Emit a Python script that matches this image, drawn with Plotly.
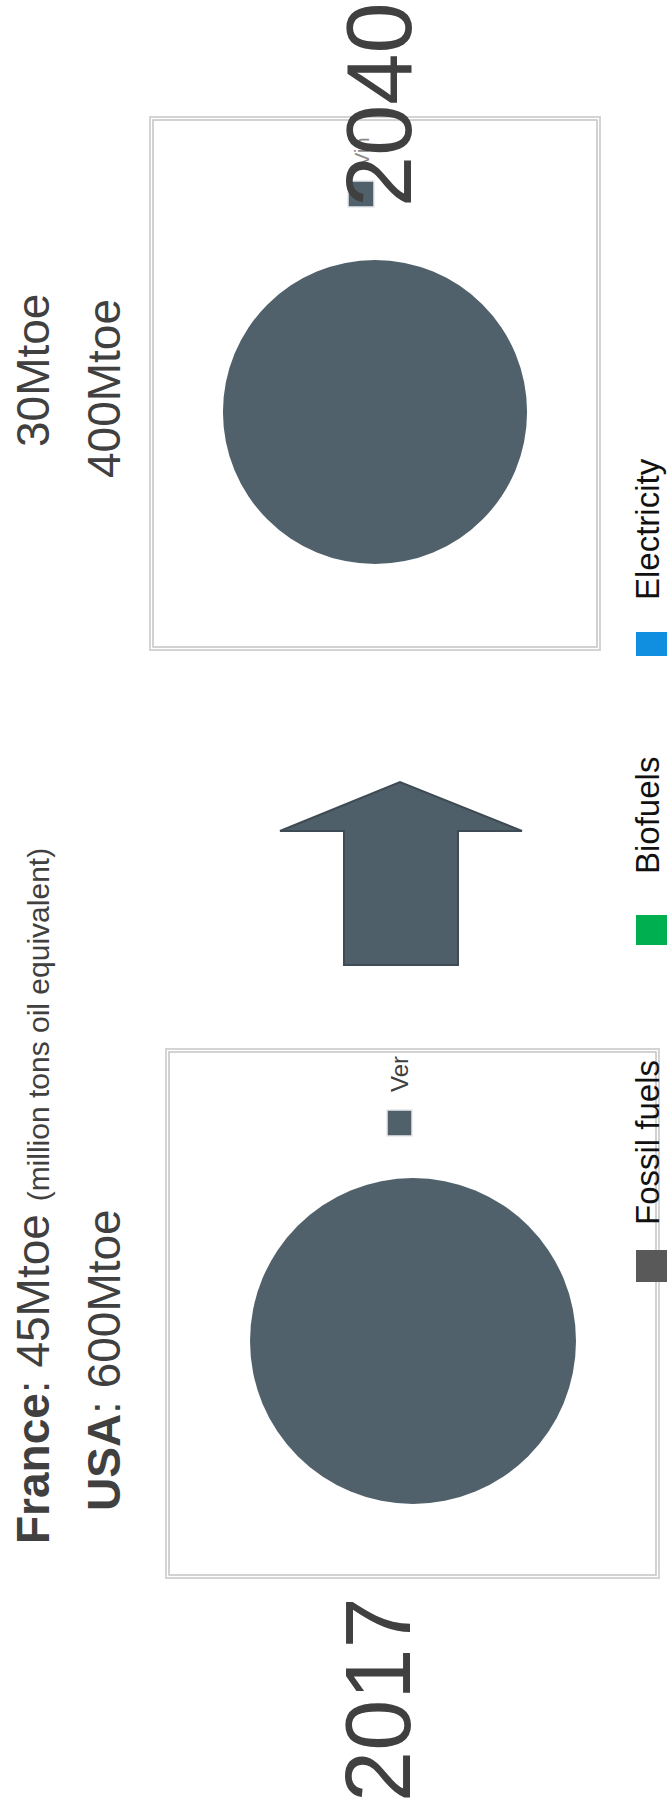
import plotly.graph_objects as go

# ---- data -----------------------------------------------------------------
years = ["2017", "2040"]
france_mtoe = [45, 30]
usa_mtoe = [600, 400]
pie_labels = ["Ver", "Vin"]
pie_values = [100, 100]
sources = ["Fossil fuels", "Biofuels", "Electricity"]
source_colors = ["#595959", "#00B050", "#108FE0"]

W, H = 667, 1818
SLATE = "#50616B"
INK = "#404040"
FONT = "Liberation Sans, Arial, sans-serif"

# layout (pixel space) for the two panels
panels = [
    dict(box=(166, 1049, 659, 1578), cx=413, cy=1341, r=163,
         sw=(387, 1110, 412, 1136), lab=(399, 1074), year=(378, 1700),
         fr=(33, 1196), us=(104, 1360)),
    dict(box=(150, 117, 600, 650), cx=375, cy=412, r=152,
         sw=(348, 181, 374, 207), lab=(362, 152), year=(379, 105),
         fr=(33, 371), us=(104, 389)),
]

fig = go.Figure()

# invisible cartesian trace so the pixel-space axes exist for shapes/annotations
fig.add_trace(go.Scatter(x=[0, W], y=[0, H], mode="markers",
                         marker=dict(opacity=0), hoverinfo="skip",
                         showlegend=False))

for i, p in enumerate(panels):
    x0 = (p["cx"] - p["r"]) / W
    x1 = (p["cx"] + p["r"]) / W
    y0 = 1 - (p["cy"] + p["r"]) / H
    y1 = 1 - (p["cy"] - p["r"]) / H
    fig.add_trace(go.Pie(
        labels=[pie_labels[i]], values=[pie_values[i]],
        domain=dict(x=[x0, x1], y=[y0, y1]),
        marker=dict(colors=[SLATE], line=dict(width=0)),
        textinfo="none", sort=False, showlegend=False,
        hoverinfo="label+percent",
    ))

shapes = []
annotations = []

for i, p in enumerate(panels):
    bx0, by0, bx1, by1 = p["box"]
    # framed panel with a soft outer edge
    shapes.append(dict(type="rect", x0=bx0, y0=by0, x1=bx1, y1=by1,
                       line=dict(color="#D4D4D4", width=2), layer="below"))
    shapes.append(dict(type="rect", x0=bx0 + 3, y0=by0 + 3, x1=bx1 - 3, y1=by1 - 3,
                       line=dict(color="#C4C4C4", width=1.5), layer="below"))
    # pie legend entry
    sx0, sy0, sx1, sy1 = p["sw"]
    shapes.append(dict(type="rect", x0=sx0, y0=sy0, x1=sx1, y1=sy1,
                       fillcolor=SLATE, line=dict(color="#E6E9EB", width=1.5)))
    annotations.append(dict(x=p["lab"][0], y=p["lab"][1], text=pie_labels[i],
                            textangle=-90, showarrow=False,
                            xanchor="center", yanchor="middle",
                            font=dict(family=FONT, size=24 if i == 0 else 20,
                                      color=INK if i == 0 else "#8A8A8A")))

# France / USA totals
annotations.append(dict(
    x=panels[0]["fr"][0], y=panels[0]["fr"][1], textangle=-90, showarrow=False,
    xanchor="center", yanchor="middle",
    text=(f"<b>France</b>: {france_mtoe[0]}Mtoe "
          "<span style='font-size:30px'>(million tons oil equivalent)</span>"),
    font=dict(family=FONT, size=46, color=INK)))
annotations.append(dict(
    x=panels[0]["us"][0], y=panels[0]["us"][1], textangle=-90, showarrow=False,
    xanchor="center", yanchor="middle",
    text=f"<b>USA</b>: {usa_mtoe[0]}Mtoe",
    font=dict(family=FONT, size=46, color=INK)))
annotations.append(dict(
    x=panels[1]["fr"][0], y=panels[1]["fr"][1], textangle=-90, showarrow=False,
    xanchor="center", yanchor="middle",
    text=f"{france_mtoe[1]}Mtoe",
    font=dict(family=FONT, size=46, color=INK)))
annotations.append(dict(
    x=panels[1]["us"][0], y=panels[1]["us"][1], textangle=-90, showarrow=False,
    xanchor="center", yanchor="middle",
    text=f"{usa_mtoe[1]}Mtoe",
    font=dict(family=FONT, size=46, color=INK)))

# year labels (drawn last so they sit on top)
for i, p in enumerate(panels):
    annotations.append(dict(x=p["year"][0], y=p["year"][1], text=years[i],
                            textangle=-90, showarrow=False,
                            xanchor="center", yanchor="middle",
                            font=dict(family=FONT, size=92, color=INK)))

# transition arrow between the two panels
shapes.append(dict(
    type="path",
    path="M 344 965 L 344 831 L 280 831 L 400 782 L 522 831 L 458 831 L 458 965 Z",
    fillcolor="#4F5F69", line=dict(color="#3E4B54", width=2)))

# energy-source legend along the right edge
legend_text_y = [1143, 816, 529]
legend_sw_y = [(1250, 1282), (915, 945), (632, 656)]
for name, col, ty, (s0, s1) in zip(sources, source_colors, legend_text_y, legend_sw_y):
    shapes.append(dict(type="rect", x0=636, x1=668, y0=s0, y1=s1,
                       fillcolor=col, line=dict(width=0)))
    annotations.append(dict(x=647, y=ty, text=name, textangle=-90, showarrow=False,
                            xanchor="center", yanchor="middle",
                            font=dict(family=FONT, size=33, color="#111111")))

fig.update_layout(
    width=W, height=H,
    margin=dict(l=0, r=0, t=0, b=0),
    paper_bgcolor="white", plot_bgcolor="rgba(0,0,0,0)",
    xaxis=dict(range=[0, W], visible=False, fixedrange=True),
    yaxis=dict(range=[H, 0], visible=False, fixedrange=True),
    shapes=shapes, annotations=annotations,
    showlegend=False,
)

fig.write_html("out.html")
